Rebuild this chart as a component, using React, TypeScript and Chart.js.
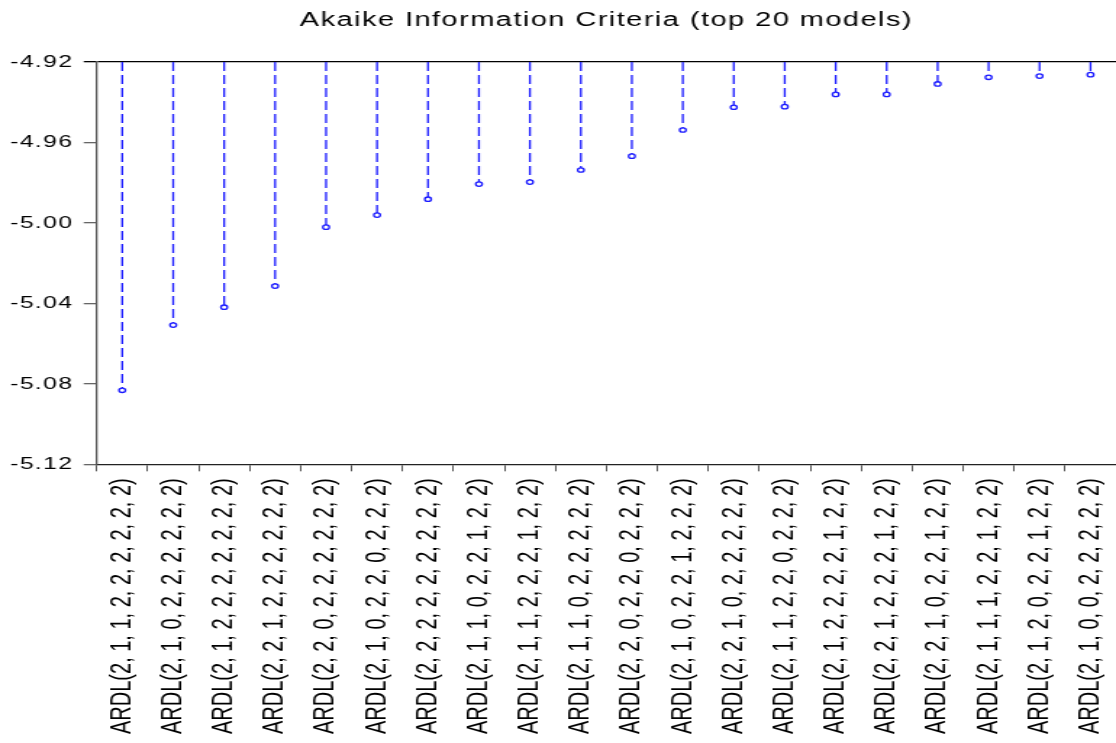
import React, { useEffect, useRef } from "react";
import { Chart, registerables } from "chart.js";

Chart.register(...registerables);

const TITLE = "Akaike Information Criteria (top 20 models)";

const MODELS = [
  "ARDL(2, 1, 1, 2, 2, 2, 2, 2, 2)",
  "ARDL(2, 1, 0, 2, 2, 2, 2, 2, 2)",
  "ARDL(2, 1, 2, 2, 2, 2, 2, 2, 2)",
  "ARDL(2, 2, 1, 2, 2, 2, 2, 2, 2)",
  "ARDL(2, 2, 0, 2, 2, 2, 2, 2, 2)",
  "ARDL(2, 1, 0, 2, 2, 0, 2, 2, 2)",
  "ARDL(2, 2, 2, 2, 2, 2, 2, 2, 2)",
  "ARDL(2, 1, 1, 0, 2, 2, 1, 2, 2)",
  "ARDL(2, 1, 1, 2, 2, 2, 1, 2, 2)",
  "ARDL(2, 1, 1, 0, 2, 2, 2, 2, 2)",
  "ARDL(2, 2, 0, 2, 2, 0, 2, 2, 2)",
  "ARDL(2, 1, 0, 2, 2, 1, 2, 2, 2)",
  "ARDL(2, 2, 1, 0, 2, 2, 2, 2, 2)",
  "ARDL(2, 1, 1, 2, 2, 0, 2, 2, 2)",
  "ARDL(2, 1, 2, 2, 2, 2, 1, 2, 2)",
  "ARDL(2, 2, 1, 2, 2, 2, 1, 2, 2)",
  "ARDL(2, 2, 1, 0, 2, 2, 1, 2, 2)",
  "ARDL(2, 1, 1, 1, 2, 2, 1, 2, 2)",
  "ARDL(2, 1, 2, 0, 2, 2, 1, 2, 2)",
  "ARDL(2, 1, 0, 0, 2, 2, 2, 2, 2)",
];

const AIC = [
  -5.0832, -5.0508, -5.0419, -5.0314, -5.0021, -4.9961, -4.9882, -4.9807,
  -4.9797, -4.9737, -4.9668, -4.9538, -4.9425, -4.9422, -4.9361, -4.9361,
  -4.9309, -4.9276, -4.927, -4.9263,
];

const Y_MIN = -5.12;
const Y_MAX = -4.92;
const Y_STEP = 0.04;

const W = 1116;
const H = 743;
const STRETCH = 1.45;
const INNER_W = Math.round(W / STRETCH);
const FONT = "'Liberation Sans', Arial, Helvetica, sans-serif";
const BLUE = "#1a1aff";
const SPACING = "1px";

const spacingPlugin = {
  id: "spacing",
  beforeUpdate(chart: any) {
    chart.ctx.letterSpacing = SPACING;
  },
  beforeDraw(chart: any) {
    chart.ctx.letterSpacing = SPACING;
  },
};

const dropLines = {
  id: "dropLines",
  beforeDatasetsDraw(chart: any) {
    const { ctx, scales } = chart;
    const x = scales.x;
    const y = scales.y;
    const top = y.getPixelForValue(Y_MAX);
    ctx.save();
    ctx.strokeStyle = BLUE;
    ctx.lineWidth = 1.3;
    ctx.setLineDash([9, 4]);
    AIC.forEach((v, i) => {
      const px = x.getPixelForValue(i);
      const py = y.getPixelForValue(v);
      ctx.beginPath();
      ctx.moveTo(px, top);
      ctx.lineTo(px, py - 2);
      ctx.stroke();
    });
    ctx.restore();
  },
};

const isTop = (v: number) => Math.abs(v - Y_MAX) < 1e-6;

// x labels are drawn without extra letter spacing
const noSpacingLabels = (scale: any) => {
  if (scale._noSpacingWrapped) return;
  const orig = scale.drawLabels.bind(scale);
  scale.drawLabels = (area: any) => {
    const ctx = scale.ctx;
    const prev = ctx.letterSpacing;
    ctx.letterSpacing = "0px";
    orig(area);
    ctx.letterSpacing = prev;
  };
  scale._noSpacingWrapped = true;
};

export default function App() {
  const ref = useRef<HTMLCanvasElement | null>(null);

  useEffect(() => {
    document.body.style.margin = "0";
    const canvas = ref.current;
    if (!canvas) return;
    const chart = new Chart(canvas, {
      type: "line",
      data: {
        labels: MODELS,
        datasets: [
          {
            data: AIC,
            showLine: false,
            pointRadius: 2.2,
            pointBorderWidth: 1.3,
            pointBorderColor: BLUE,
            pointBackgroundColor: "#ffffff",
          },
        ],
      },
      plugins: [spacingPlugin, dropLines],
      options: {
        animation: false,
        responsive: false,
        devicePixelRatio: 1,
        layout: {
          autoPadding: false,
          padding: { left: 0, right: 0, top: 0, bottom: 2 },
        },
        plugins: {
          legend: { display: false },
          tooltip: { enabled: false },
          title: {
            display: true,
            text: TITLE,
            fullSize: false,
            color: "#000",
            font: { family: FONT, size: 20, weight: "normal" },
            padding: { top: 8, bottom: 30 },
          },
        },
        scales: {
          x: {
            type: "category",
            offset: true,
            beforeFit: (s: any) => {
              s.ctx.letterSpacing = "0px";
            },
            afterFit: (s: any) => {
              s.ctx.letterSpacing = SPACING;
              s.paddingLeft = 0;
              s.paddingRight = 0;
              noSpacingLabels(s);
            },
            grid: {
              offset: true,
              drawOnChartArea: false,
              tickLength: 7,
              tickColor: "#555",
            },
            border: { display: true, color: "#222", width: 1.3 },
            ticks: {
              autoSkip: false,
              minRotation: 90,
              maxRotation: 90,
              padding: 7,
              color: "#000",
              font: { family: FONT, size: 20 },
            },
          },
          y: {
            min: Y_MIN,
            max: Y_MAX,
            grid: {
              drawOnChartArea: true,
              tickLength: 9,
              color: (c: any) => (c.tick && isTop(c.tick.value) ? "#000" : "rgba(0,0,0,0)"),
              tickColor: (c: any) => (c.tick && isTop(c.tick.value) ? "#000" : "#666"),
              lineWidth: 1.3,
            },
            border: { display: true, color: "#555", width: 1.3 },
            ticks: {
              stepSize: Y_STEP,
              padding: 7,
              color: "#000",
              font: { family: FONT, size: 17 },
              callback: (v: any) => Number(v).toFixed(2),
            },
          },
        },
      },
    } as any);
    return () => chart.destroy();
  }, []);

  return (
    <div style={{ width: W, height: H, background: "#fff" }}>
      <canvas
        ref={ref}
        width={INNER_W}
        height={H}
        style={{ width: `${W}px`, height: `${H}px`, display: "block" }}
      />
    </div>
  );
}
